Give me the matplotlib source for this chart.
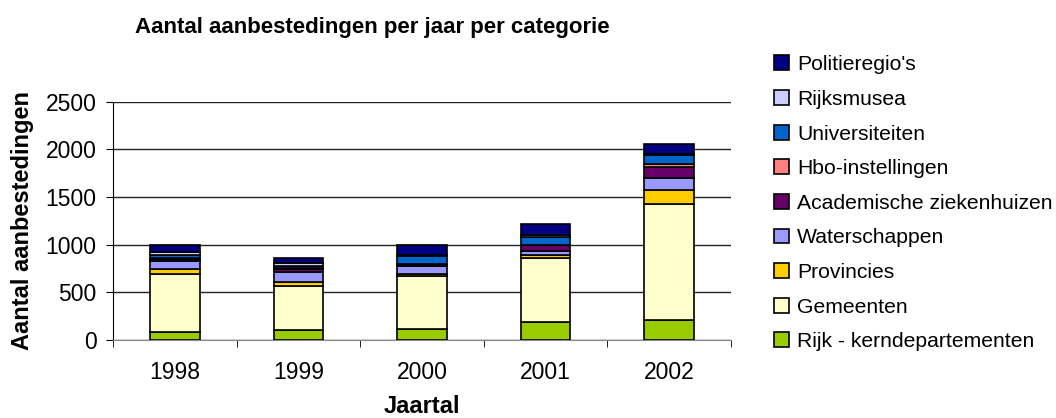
import numpy as np
import matplotlib
matplotlib.use('Agg')
import matplotlib.pyplot as plt

plt.rcParams['font.family'] = ['Liberation Sans', 'DejaVu Sans']

# data
jaren = ['1998', '1999', '2000', '2001', '2002']
categorieen = ['Rijk - kerndepartementen', 'Gemeenten', 'Provincies', 'Waterschappen',
               'Academische ziekenhuizen', 'Hbo-instellingen', 'Universiteiten',
               'Rijksmusea', "Politieregio's"]
rijk = [80, 100, 115, 190, 210]
gemeenten = [610, 460, 550, 665, 1220]
provincies = [50, 45, 30, 35, 140]
waterschappen = [85, 110, 80, 45, 130]
academisch = [25, 25, 15, 55, 110]
hbo = [10, 10, 10, 10, 35]
universiteiten = [30, 25, 75, 80, 100]
rijksmusea = [30, 30, 15, 20, 10]
politie = [75, 55, 110, 120, 100]
kleuren = ['#99CC00', '#FFFFCC', '#FFCC00', '#9999FF', '#660066',
           '#FF8080', '#0066CC', '#CCCCFF', '#000080']

reeksen = [rijk, gemeenten, provincies, waterschappen, academisch,
           hbo, universiteiten, rijksmusea, politie]

fig = plt.figure(figsize=(10.56, 4.18), dpi=100)
ax = fig.add_axes([0.1073, 0.1873, 0.5847, 0.5694])

x = np.arange(len(jaren))
bodem = np.zeros(len(jaren))
for naam, waarden, kleur in zip(categorieen, reeksen, kleuren):
    ax.bar(x, waarden, 0.4, bottom=bodem, color=kleur, edgecolor='black',
           linewidth=1.2, label=naam, zorder=3)
    bodem += np.array(waarden)

ax.set_xlim(-0.5, 4.5)
ax.set_ylim(0, 2500)
ax.set_yticks(np.arange(0, 2501, 500))
ax.yaxis.grid(True, color='#222222', linewidth=1)
ax.set_axisbelow(True)
ax.set_xticks(x)
ax.set_xticklabels(jaren)
ax.set_xticks(np.arange(-0.5, 5, 1), minor=True)
ax.tick_params(axis='x', which='major', length=0, pad=15, labelsize=16.5)
ax.tick_params(axis='x', which='minor', length=5, direction='out', color='black')
ax.tick_params(axis='y', length=5, direction='out', labelsize=16.5, pad=7)
for s in ['top', 'right']:
    ax.spines[s].set_visible(False)
ax.spines['bottom'].set_color('#888888')
ax.spines['left'].set_color('black')

ax.set_xlabel('Jaartal', fontsize=17, fontweight='bold')
ax.set_ylabel('Aantal aanbestedingen', fontsize=17, fontweight='bold')
ax.xaxis.set_label_coords(0.5, -0.232)
ax.yaxis.set_label_coords(-0.128, 0.5)
fig.text(0.353, 0.935, 'Aantal aanbestedingen per jaar per categorie',
         ha='center', va='center', fontsize=16, fontweight='bold')

h, l = ax.get_legend_handles_labels()
ax.legend(h[::-1], l[::-1], loc='upper left', bbox_to_anchor=(0.725, 0.888),
          bbox_transform=fig.transFigure, frameon=False, fontsize=15.2,
          handlelength=0.7, handleheight=0.7, handletextpad=0.4,
          labelspacing=0.74, borderaxespad=0)

fig.savefig('out.png', dpi=100)
